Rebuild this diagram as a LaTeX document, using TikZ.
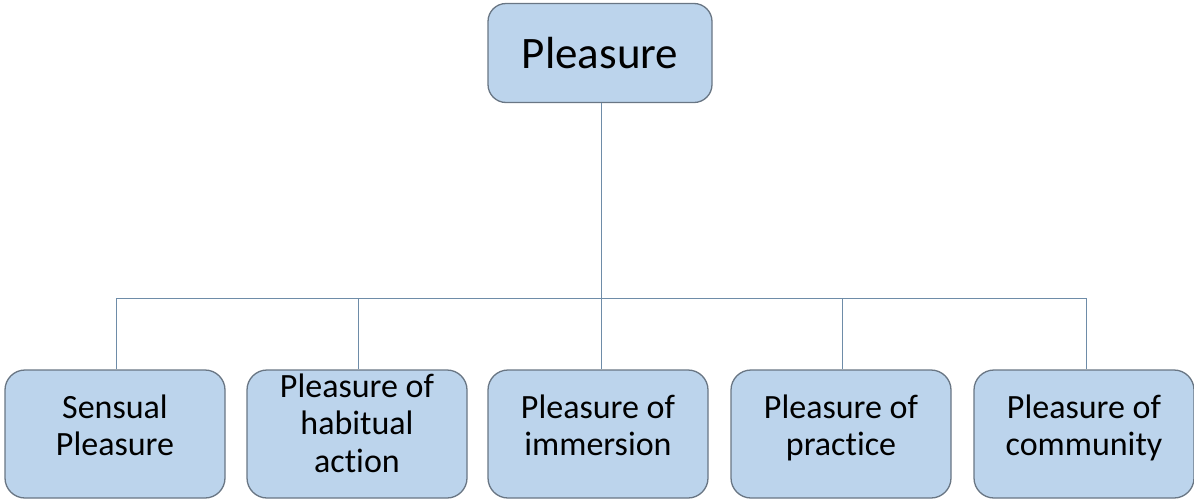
\documentclass[tikz,border=0pt]{standalone}
\usepackage{fontspec}
\setmainfont[Ligatures={NoCommon}]{Carlito}
\definecolor{boxfill}{RGB}{188,212,236}
\definecolor{boxdraw}{RGB}{105,118,132}
\definecolor{linkcol}{RGB}{110,140,168}
\begin{document}
\begin{tikzpicture}[x=1pt,y=-1pt,
  topbox/.style={draw=boxdraw,fill=boxfill,line width=1.3pt,rounded corners=18pt,
    minimum width=224pt,minimum height=99pt,inner sep=0pt,
    font=\fontsize{45}{50}\selectfont},
  leafbox/.style={draw=boxdraw,fill=boxfill,line width=1.3pt,rounded corners=20pt,
    minimum width=220pt,minimum height=128pt,inner sep=0pt,align=center,
    font=\fontsize{34}{37.5}\selectfont},
  link/.style={draw=linkcol,line width=1pt}]
\useasboundingbox (0,0) rectangle (1194,501);
\node[topbox] (top) at (600,53) {Pleasure};
\node[leafbox] (l1) at (115,434) {Sensual\\Pleasure\\[-20pt]};
\node[leafbox] (l2) at (357,434) {Pleasure of\\habitual\\action\\[-15.5pt]};
\node[leafbox] (l3) at (598,434) {Pleasure of\\immersion\\[-20pt]};
\node[leafbox] (l4) at (841,434) {Pleasure of\\practice\\[-20pt]};
\node[leafbox] (l5) at (1084,434) {Pleasure of\\community\\[-20pt]};
\coordinate (bar) at (601,298);
\draw[link] (top.south -| bar) -- (bar);
\draw[link] (l1.north -| 116,298) -- (116,298) -- (1086,298) -- (l5.north -| 1086,298);
\draw[link] (l2.north -| 358,298) -- (358,298);
\draw[link] (l3.north -| bar) -- (bar);
\draw[link] (l4.north -| 842,298) -- (842,298);
\end{tikzpicture}
\end{document}
